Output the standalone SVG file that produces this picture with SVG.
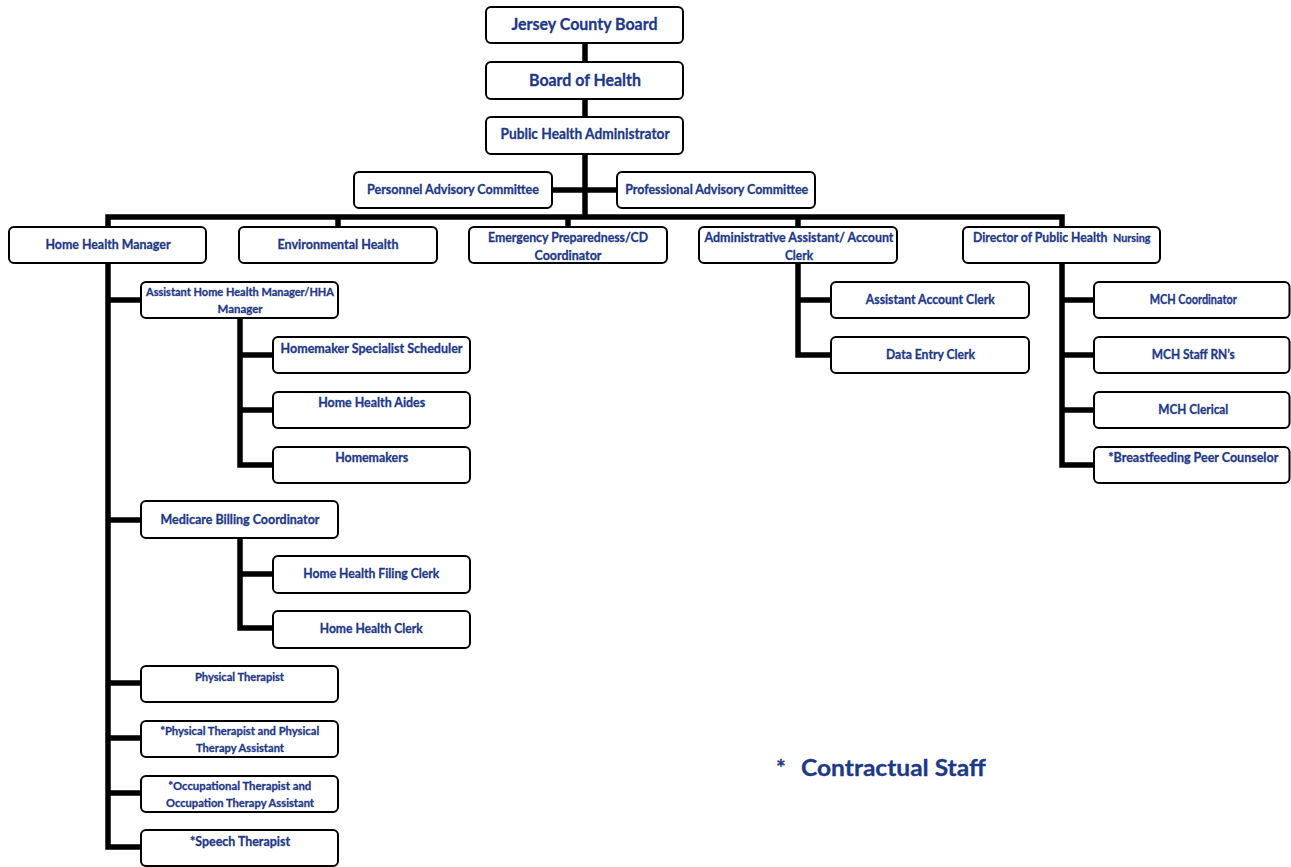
<svg xmlns="http://www.w3.org/2000/svg" width="1291" height="867" viewBox="0 0 1291 867">
<style>
.box{fill:#fff;stroke:#000;stroke-width:2}
.t{font-family:Lato,"Liberation Sans",sans-serif;font-weight:bold;fill:#1e3888;stroke:#1e3888;stroke-width:0.3;text-anchor:middle}
.s{text-anchor:start}
.f17{font-size:17px}.f15{font-size:15px}.f13{font-size:13px}.f12{font-size:12.5px}.f11{font-size:11.5px}.f10{font-size:11px}
.c{fill:none;stroke:#000;stroke-width:5.5;stroke-linejoin:miter}
</style>
<rect width="1291" height="867" fill="#fff"/>
<g id="connectors">
<path class="c" d="M585,43V62M585,99V117M585,154V217M552,190H617"/>
<path class="c" d="M108,227V217H1062V227M338,217V227M568,217V227M798,217V227"/>
<path class="c" d="M108,263V847H141M108,300H141M108,520H141M108,683H141M108,738H141M108,793H141"/>
<path class="c" d="M240,318V465H273M240,355H273M240,410H273"/>
<path class="c" d="M240,538V628H273M240,574H273"/>
<path class="c" d="M798,263V355H831M798,300H831"/>
<path class="c" d="M1062,263V465H1094M1062,300H1094M1062,355H1094M1062,410H1094"/>
</g>
<g id="jersey-county-board"><rect class="box" x="486" y="7" width="197" height="36" rx="5"/><text class="t f17" x="584.5" y="30" textLength="146" lengthAdjust="spacingAndGlyphs">Jersey County Board</text></g>
<g id="board-of-health"><rect class="box" x="486" y="62" width="197" height="37" rx="5"/><text class="t f17" x="585" y="86" textLength="112" lengthAdjust="spacingAndGlyphs">Board of Health</text></g>
<g id="public-health-administrator"><rect class="box" x="486" y="117" width="197" height="37" rx="5"/><text class="t f15" x="585" y="139" textLength="169" lengthAdjust="spacingAndGlyphs">Public Health Administrator</text></g>
<g id="personnel-advisory"><rect class="box" x="354" y="172" width="198" height="36" rx="5"/><text class="t f13" x="453" y="194" textLength="172" lengthAdjust="spacingAndGlyphs">Personnel Advisory Committee</text></g>
<g id="professional-advisory"><rect class="box" x="617" y="172" width="198" height="36" rx="5"/><text class="t f13" x="716.7" y="194" textLength="183" lengthAdjust="spacingAndGlyphs">Professional Advisory Committee</text></g>
<g id="home-health-manager"><rect class="box" x="9" y="227" width="197" height="36" rx="5"/><text class="t f13" x="108" y="249" textLength="125" lengthAdjust="spacingAndGlyphs">Home Health Manager</text></g>
<g id="environmental-health"><rect class="box" x="239" y="227" width="198" height="36" rx="5"/><text class="t f13" x="338" y="249" textLength="121" lengthAdjust="spacingAndGlyphs">Environmental Health</text></g>
<g id="emergency-preparedness"><rect class="box" x="469" y="227" width="198" height="36" rx="5"/><text class="t f13"><tspan x="568" y="242" textLength="160" lengthAdjust="spacingAndGlyphs">Emergency Preparedness/CD</tspan><tspan x="568" y="260" textLength="67" lengthAdjust="spacingAndGlyphs">Coordinator</tspan></text></g>
<g id="administrative-assistant"><rect class="box" x="699" y="227" width="198" height="36" rx="5"/><text class="t f13"><tspan x="799" y="242" textLength="189" lengthAdjust="spacingAndGlyphs">Administrative Assistant/ Account</tspan><tspan x="799" y="260" textLength="28" lengthAdjust="spacingAndGlyphs">Clerk</tspan></text></g>
<g id="director-public-health-nursing"><rect class="box" x="963" y="227" width="197" height="36" rx="5"/><text class="t s f13" x="973" y="242" textLength="134.5" lengthAdjust="spacingAndGlyphs">Director of Public Health</text><text class="t s f10" x="1113" y="242" textLength="37.5" lengthAdjust="spacingAndGlyphs">Nursing</text></g>
<g id="assistant-hhm"><rect class="box" x="141" y="282" width="197" height="36" rx="5"/><text class="t f11"><tspan x="240" y="296" textLength="188" lengthAdjust="spacingAndGlyphs">Assistant Home Health Manager/HHA</tspan><tspan x="240" y="313" textLength="45" lengthAdjust="spacingAndGlyphs">Manager</tspan></text></g>
<g id="homemaker-specialist-scheduler"><rect class="box" x="273" y="337" width="197" height="36" rx="5"/><text class="t f13" x="371.5" y="353" textLength="182" lengthAdjust="spacingAndGlyphs">Homemaker Specialist Scheduler</text></g>
<g id="home-health-aides"><rect class="box" x="273" y="392" width="197" height="36" rx="5"/><text class="t f13" x="371.7" y="407" textLength="107" lengthAdjust="spacingAndGlyphs">Home Health Aides</text></g>
<g id="homemakers"><rect class="box" x="273" y="447" width="197" height="36" rx="5"/><text class="t f13" x="371.7" y="462" textLength="73" lengthAdjust="spacingAndGlyphs">Homemakers</text></g>
<g id="assistant-account-clerk"><rect class="box" x="831" y="282" width="198" height="36" rx="5"/><text class="t f13" x="930.3" y="303.5" textLength="129" lengthAdjust="spacingAndGlyphs">Assistant Account Clerk</text></g>
<g id="data-entry-clerk"><rect class="box" x="831" y="337" width="198" height="36" rx="5"/><text class="t f13" x="930.5" y="358.5" textLength="89" lengthAdjust="spacingAndGlyphs">Data Entry Clerk</text></g>
<g id="mch-coordinator"><rect class="box" x="1094" y="282" width="195.5" height="36" rx="5"/><text class="t f12" x="1193.3" y="303.5" textLength="87" lengthAdjust="spacingAndGlyphs">MCH Coordinator</text></g>
<g id="mch-staff-rns"><rect class="box" x="1094" y="337" width="195.5" height="36" rx="5"/><text class="t f13" x="1193.3" y="359" textLength="83" lengthAdjust="spacingAndGlyphs">MCH Staff RN’s</text></g>
<g id="mch-clerical"><rect class="box" x="1094" y="392" width="195.5" height="36" rx="5"/><text class="t f13" x="1193.3" y="414" textLength="70" lengthAdjust="spacingAndGlyphs">MCH Clerical</text></g>
<g id="breastfeeding-peer-counselor"><rect class="box" x="1094" y="447" width="195.5" height="36" rx="5"/><text class="t f13" x="1193.3" y="462" textLength="170" lengthAdjust="spacingAndGlyphs">*Breastfeeding Peer Counselor</text></g>
<g id="medicare-billing-coordinator"><rect class="box" x="141" y="501" width="197" height="37" rx="5"/><text class="t f13" x="240" y="524" textLength="159" lengthAdjust="spacingAndGlyphs">Medicare Billing Coordinator</text></g>
<g id="home-health-filing-clerk"><rect class="box" x="273" y="556" width="197" height="37" rx="5"/><text class="t f13" x="371.3" y="577.5" textLength="136" lengthAdjust="spacingAndGlyphs">Home Health Filing Clerk</text></g>
<g id="home-health-clerk"><rect class="box" x="273" y="611" width="197" height="37" rx="5"/><text class="t f13" x="371.3" y="633" textLength="103" lengthAdjust="spacingAndGlyphs">Home Health Clerk</text></g>
<g id="physical-therapist"><rect class="box" x="141" y="666" width="197" height="36" rx="5"/><text class="t f10" x="239.5" y="681" textLength="89" lengthAdjust="spacingAndGlyphs">Physical Therapist</text></g>
<g id="pt-and-pta"><rect class="box" x="141" y="721" width="197" height="36" rx="5"/><text class="t f11"><tspan x="239.7" y="735" textLength="159" lengthAdjust="spacingAndGlyphs">*Physical Therapist and Physical</tspan><tspan x="240" y="752" textLength="88" lengthAdjust="spacingAndGlyphs">Therapy Assistant</tspan></text></g>
<g id="ot-and-ota"><rect class="box" x="141" y="776" width="197" height="36" rx="5"/><text class="t f11"><tspan x="239.7" y="790" textLength="143" lengthAdjust="spacingAndGlyphs">*Occupational Therapist and</tspan><tspan x="240" y="807" textLength="148" lengthAdjust="spacingAndGlyphs">Occupation Therapy Assistant</tspan></text></g>
<g id="speech-therapist"><rect class="box" x="141" y="830" width="197" height="36" rx="5"/><text class="t f12" x="240" y="846" textLength="100" lengthAdjust="spacingAndGlyphs">*Speech Therapist</text></g>
<g id="legend"><text class="t s" style="font-size:23px"><tspan x="776" y="776">*</tspan><tspan x="801" y="776" textLength="184.7" lengthAdjust="spacingAndGlyphs">Contractual Staff</tspan></text></g>
</svg>
